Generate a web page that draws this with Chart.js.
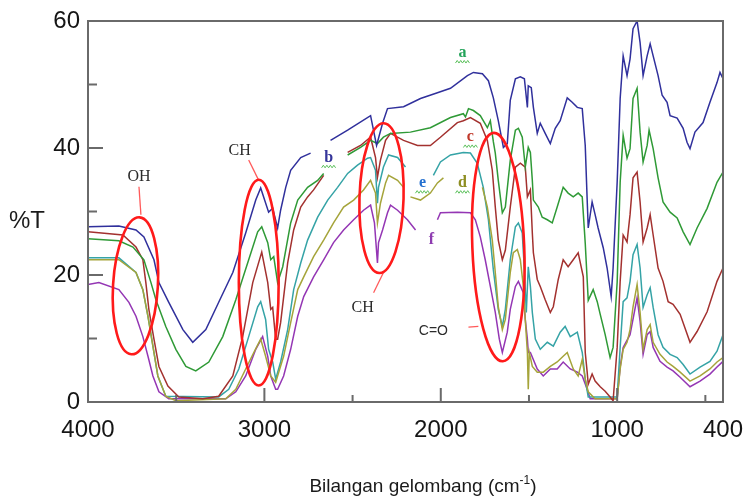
<!DOCTYPE html>
<html><head><meta charset="utf-8">
<script src="https://cdn.jsdelivr.net/npm/chart.js@4/dist/chart.umd.min.js"></script>
<style>html,body{margin:0;padding:0;background:#fff;}</style>
</head><body>
<canvas id="c" width="746" height="497"></canvas>
<script>
// ---- tick labels / tick marks ----
const xTickLabels = [4000, 3000, 2000, 1000, 400];
const yTickLabels = [0, 20, 40, 60];
const xMajorMarks = [3000, 2000, 1000];
const xMinorMarks = [3500, 2500, 1500, 500];
const yMajorMarks = [20, 40];
const yMinorMarks = [10, 30, 50];

// ---- series: [wavenumber (cm-1), %T]; null = break in trace ----
const seriesA = [[4000,27.6],[3825,27.7],[3728,27.1],[3683,26.0],[3626,22.4],[3598,18.8],[3542,15.7],[3462,11.4],[3406,9.4],[3332,11.4],[3259,15.7],[3179,20.4],[3106,26.6],[3049,31.8],[3021,33.7],[2976,29.9],[2953,30.5],[2925,27.4],[2908,30.2],[2879,33.8],[2851,36.5],[2794,38.5],[2738,39.2],[2700,null],[2625,41.2],[2528,42.8],[2398,45.1],[2364,40.4],[2330,43.9],[2302,46.2],[2211,46.5],[2115,47.8],[2019,48.7],[1945,49.4],[1849,51.4],[1815,51.9],[1764,51.7],[1730,50.6],[1702,47.9],[1674,44.3],[1645,40.1],[1623,40.7],[1606,47.5],[1577,50.9],[1549,51.2],[1526,50.9],[1509,46.4],[1504,49.8],[1487,49.5],[1475,46.4],[1453,42.3],[1436,43.9],[1408,42.3],[1379,40.7],[1351,43.1],[1323,44.3],[1283,47.9],[1255,47.2],[1226,46.4],[1198,46.2],[1181,40.4],[1170,31.8],[1164,27.4],[1142,31.5],[1125,29.5],[1108,27.4],[1079,24.3],[1057,21.1],[1034,16.6],[1023,21.1],[1000,34.6],[983,47.8],[966,54.5],[944,51.4],[927,54.0],[910,58.8],[887,60.0],[870,56.6],[853,51.4],[830,54.5],[813,56.4],[796,54.5],[768,51.4],[745,48.3],[717,47.2],[700,45.1],[660,44.7],[626,43.1],[604,40.9],[587,39.9],[559,42.5],[513,44.0],[474,47.2],[434,50.3],[417,51.9],[400,50.9]];
const seriesB = [[4000,25.7],[3825,25.4],[3745,24.4],[3683,22.4],[3643,18.8],[3615,16.1],[3559,11.9],[3502,8.3],[3445,5.6],[3389,4.9],[3315,6.3],[3236,10.3],[3162,16.1],[3089,22.4],[3038,26.8],[3015,27.6],[2981,25.1],[2964,22.4],[2947,22.9],[2925,18.8],[2896,21.3],[2851,28.2],[2811,31.8],[2755,33.8],[2698,34.9],[2664,36.0],[2600,null],[2528,38.9],[2455,40.1],[2398,41.2],[2359,40.7],[2325,41.7],[2285,42.3],[2172,42.5],[2059,43.2],[1945,44.8],[1872,45.4],[1860,44.9],[1843,46.2],[1815,45.9],[1776,45.1],[1736,43.2],[1719,44.3],[1702,41.0],[1691,39.2],[1674,34.9],[1651,29.8],[1634,30.7],[1606,38.1],[1577,42.8],[1560,43.1],[1538,41.7],[1521,37.0],[1504,40.1],[1492,39.3],[1481,34.9],[1475,31.8],[1447,30.7],[1425,29.1],[1396,28.7],[1368,28.2],[1340,30.7],[1306,33.8],[1278,32.9],[1249,32.3],[1221,32.9],[1198,32.3],[1181,25.0],[1164,16.0],[1136,17.7],[1113,15.8],[1096,13.8],[1068,10.6],[1040,7.0],[1023,8.6],[1000,18.9],[983,34.6],[966,42.0],[944,38.4],[927,39.9],[910,47.8],[887,49.4],[870,42.5],[853,37.8],[830,40.4],[819,42.8],[796,39.9],[768,35.3],[740,31.5],[700,29.9],[660,29.0],[626,26.8],[587,24.8],[547,27.4],[490,30.5],[434,34.6],[400,36.2]];
const seriesC = [[4000,26.8],[3802,26.3],[3728,24.4],[3689,22.4],[3672,18.8],[3655,14.6],[3626,9.9],[3598,5.6],[3547,2.5],[3485,0.8],[3349,0.5],[3259,0.9],[3179,4.1],[3123,10.3],[3066,18.8],[3015,23.6],[2981,18.8],[2964,14.6],[2953,14.9],[2936,9.9],[2925,9.9],[2908,12.5],[2868,21.9],[2834,27.1],[2794,30.7],[2755,32.3],[2721,33.4],[2664,35.7],[2600,null],[2528,39.3],[2455,40.4],[2398,41.7],[2370,38.5],[2359,35.4],[2342,38.1],[2313,41.2],[2285,42.3],[2211,41.2],[2132,40.4],[2059,40.4],[2002,41.7],[1906,44.0],[1872,44.3],[1832,44.8],[1776,43.9],[1736,41.2],[1708,36.5],[1691,30.7],[1674,25.5],[1651,22.4],[1634,23.9],[1606,30.7],[1577,37.0],[1549,37.6],[1521,37.0],[1509,32.3],[1492,33.4],[1481,26.6],[1475,23.5],[1453,19.3],[1436,18.2],[1408,16.1],[1379,14.1],[1362,15.0],[1334,19.3],[1306,22.4],[1278,21.3],[1249,22.4],[1221,23.5],[1192,19.7],[1181,7.8],[1170,4.7],[1164,2.8],[1142,4.4],[1125,3.3],[1096,2.4],[1068,1.7],[1040,0.8],[1023,0.2],[1000,8.6],[983,19.0],[966,26.3],[944,25.2],[927,29.5],[910,35.3],[887,36.2],[870,31.5],[853,25.2],[830,27.4],[813,29.5],[796,26.3],[768,21.1],[740,19.0],[711,15.8],[683,15.4],[643,13.8],[587,9.4],[547,11.1],[490,14.2],[434,19.0],[400,21.1]];
const seriesD = [[4000,22.4],[3825,22.4],[3728,20.4],[3689,17.7],[3660,13.5],[3632,8.8],[3604,4.1],[3559,0.9],[3502,0.2],[3219,0.5],[3162,2.0],[3106,5.2],[3060,7.8],[3021,9.9],[2993,7.2],[2964,4.1],[2936,3.1],[2925,4.1],[2891,7.2],[2851,12.5],[2811,17.7],[2777,19.7],[2721,22.9],[2664,25.5],[2608,28.2],[2551,30.7],[2494,31.8],[2438,33.4],[2398,34.9],[2370,32.9],[2359,28.2],[2342,31.3],[2313,34.5],[2296,35.7],[2245,34.9],[2211,33.8],[2195,null],[2172,32.3],[2115,31.8],[2059,32.9],[2019,34.5],[1985,35.3],[1900,null],[1764,33.8],[1736,30.7],[1708,25.5],[1691,20.4],[1674,15.0],[1651,11.4],[1634,13.0],[1606,20.4],[1589,23.5],[1566,24.0],[1549,22.4],[1532,18.2],[1521,13.0],[1509,7.8],[1504,2.0],[1498,7.8],[1481,5.6],[1453,4.7],[1419,4.7],[1379,5.6],[1340,6.3],[1306,7.2],[1283,7.8],[1249,5.2],[1221,4.1],[1198,6.7],[1181,3.6],[1164,1.6],[1125,0.5],[1000,0.5],[983,5.2],[966,8.3],[944,9.4],[927,11.4],[910,15.0],[887,18.5],[870,14.1],[853,8.3],[830,11.4],[813,12.2],[796,9.4],[757,7.5],[717,6.3],[683,5.6],[643,4.7],[587,3.3],[530,4.1],[474,5.2],[434,6.3],[400,7.0]];
const seriesE = [[4000,22.7],[3825,22.7],[3728,20.4],[3689,17.7],[3660,13.5],[3632,8.8],[3604,4.1],[3559,0.9],[3259,0.8],[3202,2.0],[3145,5.2],[3089,10.3],[3038,15.0],[3021,15.8],[2993,13.0],[2976,8.3],[2953,6.3],[2936,3.6],[2908,6.3],[2868,11.4],[2834,17.7],[2794,21.9],[2755,25.5],[2698,29.1],[2641,31.8],[2585,33.8],[2528,36.0],[2472,37.3],[2415,38.4],[2398,38.5],[2370,36.5],[2359,31.3],[2353,33.8],[2325,37.0],[2296,38.9],[2245,38.5],[2200,37.0],[2100,null],[2042,35.7],[2002,37.8],[1945,38.9],[1872,39.3],[1832,39.2],[1793,37.6],[1759,33.8],[1730,28.7],[1702,20.8],[1674,14.6],[1651,11.9],[1634,14.6],[1606,22.4],[1577,27.6],[1560,28.2],[1538,26.6],[1526,20.8],[1515,14.1],[1504,21.3],[1492,18.2],[1481,14.1],[1464,9.9],[1436,8.3],[1396,9.4],[1362,8.8],[1323,11.0],[1295,11.9],[1266,10.3],[1226,11.0],[1198,7.8],[1181,3.6],[1164,0.8],[1000,0.8],[983,8.6],[966,15.8],[944,16.4],[927,19.0],[910,23.2],[887,24.8],[870,21.1],[853,14.9],[830,16.9],[813,18.0],[796,14.9],[768,10.6],[740,8.6],[700,7.5],[660,7.0],[626,5.9],[587,4.4],[530,5.5],[474,6.4],[434,8.0],[400,10.6]];
const seriesF = [[4000,18.5],[3938,18.8],[3825,17.7],[3768,15.7],[3728,13.5],[3689,10.3],[3660,7.2],[3632,4.1],[3598,1.6],[3542,0.5],[3219,0.5],[3162,1.6],[3106,4.1],[3049,8.3],[3010,10.3],[2981,7.2],[2964,4.1],[2936,2.0],[2925,2.0],[2891,4.1],[2851,8.3],[2811,13.5],[2777,16.6],[2721,19.7],[2664,22.4],[2608,25.1],[2551,27.1],[2494,28.7],[2438,30.2],[2398,31.0],[2376,28.2],[2359,21.9],[2353,25.1],[2330,27.1],[2302,29.8],[2285,31.0],[2245,30.2],[2189,28.7],[2143,27.1],[2080,null],[2019,28.7],[2002,29.8],[1906,29.9],[1832,29.8],[1804,28.7],[1776,26.0],[1748,22.4],[1719,18.2],[1691,14.1],[1668,9.9],[1651,7.8],[1623,11.0],[1606,14.6],[1577,18.2],[1560,19.0],[1532,17.2],[1521,13.0],[1509,9.9],[1504,7.8],[1492,7.8],[1453,5.2],[1419,4.1],[1379,5.2],[1340,5.2],[1306,6.3],[1266,5.2],[1226,4.7],[1198,4.1],[1170,2.0],[1153,0.5],[1000,0.5],[983,5.5],[966,8.6],[927,10.6],[887,16.4],[870,12.7],[853,7.5],[830,10.6],[813,11.1],[796,8.6],[757,6.4],[717,5.5],[683,4.9],[643,3.9],[587,2.4],[530,3.3],[474,4.4],[434,5.5],[400,6.4]];

const seriesNames = ['a','b','c','d','e','f'];
const seriesColors = ['#30309c','#2f9a36','#a3312f','#a5a43a','#35a3a6','#9436b4'];

// ---- annotations (data coordinates) ----
const ellipses = [ // [centre cm-1, centre %T, half-width cm-1, half-height %T, rotation]
  [3731, 18.3, 127, 10.8, 0.06],
  [3032, 18.8, 113, 16.2, 0.0],
  [2336, 32.1, 125, 11.8, 0.03],
  [1674, 24.4, 147, 18.0, -0.04]
];
const pointerLines = [
  [3711, 33.9, 3700, 29.5],
  [3089, 38.1, 3032, 34.9],
  [2381, 17.2, 2325, 20.4],
  [1843, 11.8, 1787, 11.9]
];
const groupLabels = [ // text, cm-1, %T, serif?
  ['OH', 3711, 35.4, true],
  ['CH', 3140, 39.6, true],
  ['CH', 2443, 14.9, true],
  ['C=O', 2042, 11.1, false]
];
const letterLabels = [ // letter, cm-1, %T, colour, squiggle
  ['a', 1877, 55.0, '#23a35a', true],
  ['b', 2636, 38.5, '#35359a', true],
  ['c', 1832, 41.7, '#c0392b', true],
  ['d', 1877, 34.5, '#8e8e22', true],
  ['e', 2104, 34.5, '#2470d0', true],
  ['f', 2053, 25.5, '#8e3cb0', false]
];

const overlay = {
  id: 'overlay',
  afterDatasetsDraw(chart) {
    const {ctx, chartArea: a, scales: {x, y}} = chart;
    ctx.save();
    // frame
    ctx.strokeStyle = '#6a6a6a'; ctx.lineWidth = 2;
    ctx.strokeRect(a.left, a.top, a.right - a.left, a.bottom - a.top);
    ctx.beginPath();
    xMajorMarks.forEach(v => { const p = x.getPixelForValue(v); ctx.moveTo(p, a.bottom); ctx.lineTo(p, a.bottom - 14); });
    xMinorMarks.forEach(v => { const p = x.getPixelForValue(v); ctx.moveTo(p, a.bottom); ctx.lineTo(p, a.bottom - 7); });
    yMajorMarks.forEach(v => { const p = y.getPixelForValue(v); ctx.moveTo(a.left, p); ctx.lineTo(a.left + 15, p); });
    yMinorMarks.forEach(v => { const p = y.getPixelForValue(v); ctx.moveTo(a.left, p); ctx.lineTo(a.left + 9, p); });
    ctx.stroke();

    // pointer lines
    ctx.strokeStyle = '#ff5a5a'; ctx.lineWidth = 1.3;
    pointerLines.forEach(l => {
      ctx.beginPath();
      ctx.moveTo(x.getPixelForValue(l[0]), y.getPixelForValue(l[1]));
      ctx.lineTo(x.getPixelForValue(l[2]), y.getPixelForValue(l[3]));
      ctx.stroke();
    });
    // ellipses
    ctx.strokeStyle = '#ff1a1a'; ctx.lineWidth = 2.6;
    ellipses.forEach(e => {
      const cx = x.getPixelForValue(e[0]), cy = y.getPixelForValue(e[1]);
      const rx = Math.abs(x.getPixelForValue(e[0] + e[2]) - cx);
      const ry = Math.abs(y.getPixelForValue(e[1] + e[3]) - cy);
      ctx.beginPath(); ctx.ellipse(cx, cy, rx, ry, e[4], 0, Math.PI * 2); ctx.stroke();
    });
    // group labels
    ctx.textAlign = 'center'; ctx.textBaseline = 'middle';
    groupLabels.forEach(g => {
      ctx.fillStyle = '#2b2b2b';
      ctx.font = g[3] ? '16px "Liberation Serif", "DejaVu Serif", serif' : '14px "Liberation Sans", Arial, sans-serif';
      ctx.fillText(g[0], x.getPixelForValue(g[1]), y.getPixelForValue(g[2]));
    });
    // letters
    letterLabels.forEach(l => {
      const px = x.getPixelForValue(l[1]), py = y.getPixelForValue(l[2]);
      ctx.fillStyle = l[3];
      ctx.font = 'bold 16px "Liberation Serif", "DejaVu Serif", serif';
      ctx.fillText(l[0], px, py);
      if (l[4]) {
        ctx.strokeStyle = '#5cc05c'; ctx.lineWidth = 1;
        ctx.beginPath();
        for (let i = 0; i <= 8; i++) {
          const sx = px - 7 + i * 1.75, sy = py + 9 + (i % 2 ? -1.3 : 1.3);
          if (i === 0) ctx.moveTo(sx, sy); else ctx.lineTo(sx, sy);
        }
        ctx.stroke();
      }
    });
    ctx.restore();
  },
  afterDraw(chart) {
    const {ctx} = chart;
    ctx.save();
    ctx.fillStyle = '#1a1a1a';
    ctx.textBaseline = 'middle'; ctx.textAlign = 'left';
    ctx.font = '24px "Liberation Sans", Arial, sans-serif';
    ctx.fillText('%T', 9, 221);
    // x title with superscript
    const main = '19px "Liberation Sans", Arial, sans-serif';
    const sup = '12px "Liberation Sans", Arial, sans-serif';
    const p1 = 'Bilangan gelombang (cm', p2 = '-1', p3 = ')';
    ctx.font = main; const w1 = ctx.measureText(p1).width, w3 = ctx.measureText(p3).width;
    ctx.font = sup; const w2 = ctx.measureText(p2).width;
    let sx = 423 - (w1 + w2 + w3) / 2;
    ctx.font = main; ctx.fillText(p1, sx, 487); sx += w1;
    ctx.font = sup; ctx.fillText(p2, sx, 481); sx += w2;
    ctx.font = main; ctx.fillText(p3, sx, 487);
    ctx.restore();
  }
};

const allSeries = [seriesA, seriesB, seriesC, seriesD, seriesE, seriesF];
new Chart(document.getElementById('c'), {
  type: 'line',
  data: {
    datasets: allSeries.map((s, i) => ({
      label: seriesNames[i], data: s, borderColor: seriesColors[i],
      borderWidth: 1.5, pointRadius: 0, tension: 0, fill: false, spanGaps: false
    }))
  },
  options: {
    responsive: false, animation: false, devicePixelRatio: 1,
    layout: {padding: {left: 0, right: 23, top: 21, bottom: 0}},
    plugins: {legend: {display: false}, tooltip: {enabled: false}},
    scales: {
      x: {
        type: 'linear', reverse: true, min: 400, max: 4000,
        afterBuildTicks: s => { s.ticks = xTickLabels.map(v => ({value: v})); },
        afterFit: s => { s.height = 95; s.paddingLeft = 0; s.paddingRight = 0; },
        grid: {display: false, drawTicks: false}, border: {display: false},
        ticks: {padding: 14, color: '#151515', maxRotation: 0, autoSkip: false,
                callback: v => String(v),
                font: {family: '"Liberation Sans", Arial, sans-serif', size: 24}}
      },
      y: {
        type: 'linear', min: 0, max: 60,
        afterBuildTicks: s => { s.ticks = yTickLabels.map(v => ({value: v})); },
        afterFit: s => { s.width = 88; s.paddingTop = 0; s.paddingBottom = 0; },
        grid: {display: false, drawTicks: false}, border: {display: false},
        ticks: {padding: 8, color: '#151515', callback: v => String(v),
                font: {family: '"Liberation Sans", Arial, sans-serif', size: 24}}
      }
    }
  },
  plugins: [overlay]
});
</script>
</body></html>
